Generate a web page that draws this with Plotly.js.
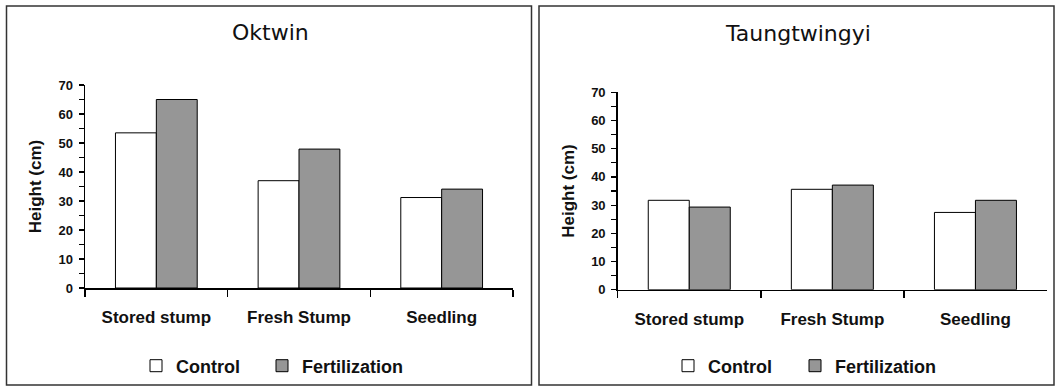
<!DOCTYPE html>
<html>
<head>
<meta charset="utf-8">
<script src="https://cdn.plot.ly/plotly-3.0.1.min.js"></script>
<style>html,body{margin:0;padding:0;background:#fff;}#chart{width:1055px;height:388px;}</style>
</head>
<body>
<div id="chart"></div>
<script>
const categories = ["Stored stump", "Fresh Stump", "Seedling"];
const seriesNames = ["Control", "Fertilization"];
const oktwinControl = [53.5, 37.0, 31.2];
const oktwinFertilization = [65.0, 47.9, 34.1];
const taungControl = [31.7, 35.6, 27.4];
const taungFertilization = [29.3, 37.1, 31.7];
const panelTitles = ["Oktwin", "Taungtwingyi"];
const yTitle = "Height (cm)";

const FONT = "Liberation Sans, Arial, sans-serif";
const fills = ["#ffffff", "#969696"];

function bar(name, x, y, xa, ya, fill, legend) {
  return {
    type: "bar", name: name, x: x, y: y, xaxis: xa, yaxis: ya,
    marker: {color: fill, line: {color: "#000", width: 1}},
    legend: legend, hoverinfo: "skip"
  };
}

const data = [
  bar(seriesNames[0], categories, oktwinControl, "x", "y", fills[0], "legend"),
  bar(seriesNames[1], categories, oktwinFertilization, "x", "y", fills[1], "legend2"),
  bar(seriesNames[0], categories, taungControl, "x2", "y2", fills[0], "legend3"),
  bar(seriesNames[1], categories, taungFertilization, "x2", "y2", fills[1], "legend4")
];

function xAxis(domain, anchor) {
  return {
    domain: domain, anchor: anchor, type: "category",
    showline: true, linecolor: "#000", linewidth: 1.5,
    ticks: "outside", tickson: "boundaries", ticklen: 7, tickwidth: 1.5, tickcolor: "#000",
    showgrid: false, zeroline: false, fixedrange: true,
    tickfont: {family: FONT, size: 17, color: "#111", weight: "bold"},
    ticklabelstandoff: 13
  };
}
function yAxis(domain, anchor, standoff) {
  return {
    domain: domain, anchor: anchor, range: [0, 70], dtick: 10,
    showline: true, linecolor: "#000", linewidth: 1.5,
    ticks: "outside", ticklen: 5, tickwidth: 1.2, tickcolor: "#000",
    minor: {dtick: 5, ticks: "outside", ticklen: 5, tickwidth: 1.2, tickcolor: "#000", showgrid: false},
    showgrid: false, zeroline: false, fixedrange: true,
    tickfont: {family: FONT, size: 13, color: "#111", weight: "bold"},
    ticklabelstandoff: 3,
    title: {text: yTitle, font: {family: FONT, size: 17, color: "#111", weight: "bold"}, standoff: standoff}
  };
}

function legendAt(px) {
  return {
    orientation: "h", xanchor: "left", yanchor: "middle", x: px/1055, y: 22/388,
    font: {family: FONT, size: 18, color: "#111", weight: "bold"},
    bgcolor: "rgba(0,0,0,0)", itemclick: false, itemdoubleclick: false
  };
}

const layout = {
  width: 1055, height: 388, autosize: false,
  margin: {l: 0, r: 0, t: 0, b: 0},
  paper_bgcolor: "#fff", plot_bgcolor: "rgba(0,0,0,0)",
  barmode: "group", bargap: 0.427, bargroupgap: 0,
  showlegend: true,
  xaxis: xAxis([85/1055, 513/1055], "y"),
  yaxis: yAxis([100/388, 303/388], "x", 12),
  xaxis2: xAxis([617.7/1055, 1047/1055], "y2"),
  yaxis2: yAxis([98.3/388, 295.7/388], "x2", 12),
  legend: legendAt(136),
  legend2: legendAt(262),
  legend3: legendAt(668),
  legend4: legendAt(795),
  annotations: [
    {text: panelTitles[0], xref: "paper", yref: "paper", x: 270/1055, y: (388-32)/388,
     showarrow: false, xanchor: "center", yanchor: "middle",
     font: {family: "DejaVu Sans, sans-serif", size: 22, color: "#111"}},
    {text: panelTitles[1], xref: "paper", yref: "paper", x: 798/1055, y: (388-33)/388,
     showarrow: false, xanchor: "center", yanchor: "middle",
     font: {family: "DejaVu Sans, sans-serif", size: 22, color: "#111"}}
  ],
  shapes: [
    {type: "rect", xref: "paper", yref: "paper", x0: 6.5/1055, x1: 531.5/1055, y0: (388-385)/388, y1: (388-6)/388,
     line: {color: "#333", width: 1.5}, fillcolor: "rgba(0,0,0,0)", layer: "below"},
    {type: "rect", xref: "paper", yref: "paper", x0: 539/1055, x1: 1054/1055, y0: (388-385)/388, y1: (388-6)/388,
     line: {color: "#333", width: 1.5}, fillcolor: "rgba(0,0,0,0)", layer: "below"}
  ]
};

Plotly.newPlot("chart", data, layout, {staticPlot: true, displayModeBar: false});
</script>
</body>
</html>
